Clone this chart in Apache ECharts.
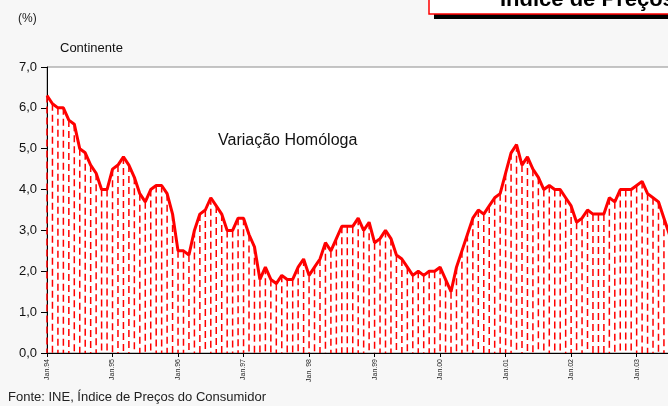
<!DOCTYPE html>
<html>
<head>
<meta charset="utf-8">
<script src="https://cdn.jsdelivr.net/npm/echarts@6/dist/echarts.min.js"></script>
<style>
  html, body { margin: 0; padding: 0; background: #f7f7f7; }
  #chart { width: 668px; height: 406px; }
</style>
</head>
<body>
<div id="chart"></div>
<script>
// meses e anos do eixo
var meses = ['Jan', 'Fev', 'Mar', 'Abr', 'Mai', 'Jun', 'Jul', 'Ago', 'Set', 'Out', 'Nov', 'Dez'];
var anos = ['94', '95', '96', '97', '98', '99', '00', '01', '02', '03'];

// variação homóloga (%), Jan.94 -> Jul.03
var variacao = [
  6.3, 6.1, 6.0, 6.0, 5.7, 5.6, 5.0, 4.9, 4.6, 4.4, 4.0, 4.0,
  4.5, 4.6, 4.8, 4.6, 4.3, 3.9, 3.7, 4.0, 4.1, 4.1, 3.9, 3.4,
  2.5, 2.5, 2.4, 3.0, 3.4, 3.5, 3.8, 3.6, 3.4, 3.0, 3.0, 3.3,
  3.3, 2.9, 2.6, 1.8, 2.1, 1.8, 1.7, 1.9, 1.8, 1.8, 2.1, 2.3,
  1.9, 2.1, 2.3, 2.7, 2.5, 2.8, 3.1, 3.1, 3.1, 3.3, 3.0, 3.2,
  2.7, 2.8, 3.0, 2.8, 2.4, 2.3, 2.1, 1.9, 2.0, 1.9, 2.0, 2.0,
  2.1, 1.8, 1.5, 2.1, 2.5, 2.9, 3.3, 3.5, 3.4, 3.6, 3.8, 3.9,
  4.4, 4.9, 5.1, 4.6, 4.8, 4.5, 4.3, 4.0, 4.1, 4.0, 4.0, 3.8,
  3.6, 3.2, 3.3, 3.5, 3.4, 3.4, 3.4, 3.8, 3.7, 4.0, 4.0, 4.0,
  4.1, 4.2, 3.9, 3.8, 3.7, 3.3, 2.9
];

var categorias = [];
for (var i = 0; i < variacao.length; i++) {
  var m = meses[i % 12];
  var a = anos[Math.floor(i / 12)];
  categorias.push(m + (a === '98' ? '. ' : '.') + a);
}

var fonte = 'Liberation Sans, Arial, sans-serif';
var myChart = echarts.init(document.getElementById('chart'));

var option = {
  backgroundColor: '#f7f7f7',
  animation: false,
  textStyle: { fontFamily: fonte },
  grid: {
    left: 47, top: 67, bottom: 53, right: -1.4,
    show: true, backgroundColor: '#ffffff',
    borderColor: '#8c8c8c', borderWidth: 1,
    outerBoundsMode: 'none'
  },
  xAxis: {
    type: 'category',
    data: categorias,
    boundaryGap: false,
    axisLine: { lineStyle: { color: '#000', width: 1 } },
    axisTick: {
      show: true, length: 4, inside: false,
      interval: function (idx) { return idx % 12 === 0; },
      lineStyle: { color: '#000' }
    },
    axisLabel: {
      interval: function (idx) { return idx % 12 === 0; },
      rotate: 90, fontSize: 7, color: '#222', margin: 6, fontFamily: fonte
    },
    splitLine: { show: false }
  },
  yAxis: {
    type: 'value',
    min: 0, max: 7, interval: 1,
    axisLine: { show: true, lineStyle: { color: '#000', width: 1 } },
    axisTick: { show: true, length: 6, lineStyle: { color: '#000' } },
    axisLabel: {
      fontSize: 13, color: '#111', margin: 10, fontFamily: fonte,
      formatter: function (v) { return v.toFixed(1).replace('.', ','); }
    },
    splitLine: { show: false }
  },
  series: [
    {
      // linhas verticais tracejadas
      type: 'custom',
      silent: true,
      data: variacao.map(function (v, i) { return [i, v]; }),
      encode: { x: 0, y: 1 },
      renderItem: function (params, api) {
        var topo = api.coord([api.value(0), api.value(1)]);
        var base = api.coord([api.value(0), 0]);
        return {
          type: 'line',
          shape: { x1: topo[0], y1: topo[1], x2: base[0], y2: base[1] },
          style: { stroke: '#ff0000', lineWidth: 1.5, lineDash: [7, 4] }
        };
      },
      z: 2
    },
    {
      type: 'line',
      data: variacao,
      symbol: 'none',
      lineStyle: { color: '#ff0000', width: 3 },
      z: 3
    }
  ],
  graphic: [
    { type: 'rect', shape: { x: 434, y: -15, width: 260, height: 34 }, style: { fill: '#000' }, z: 10 },
    { type: 'rect', shape: { x: 429, y: -20, width: 260, height: 34 }, style: { fill: '#fff', stroke: '#ff0000', lineWidth: 1.5 }, z: 11 },
    { type: 'text', left: 500, top: -11, style: { text: 'Índice de Preços no Consumidor', font: 'bold 22px ' + fonte, fill: '#000' }, z: 12 },
    { type: 'text', left: 18, top: 13, style: { text: '(%)', font: '12px ' + fonte, fill: '#222' } },
    { type: 'text', left: 60, top: 42, style: { text: 'Continente', font: '13px ' + fonte, fill: '#111' } },
    { type: 'text', left: 218, top: 133, style: { text: 'Variação Homóloga', font: '16px ' + fonte, fill: '#111' }, z: 20 },
    { type: 'text', left: 8, top: 391, style: { text: 'Fonte: INE, Índice de Preços do Consumidor', font: '13px ' + fonte, fill: '#222' } }
  ]
};

myChart.setOption(option);
</script>
</body>
</html>
